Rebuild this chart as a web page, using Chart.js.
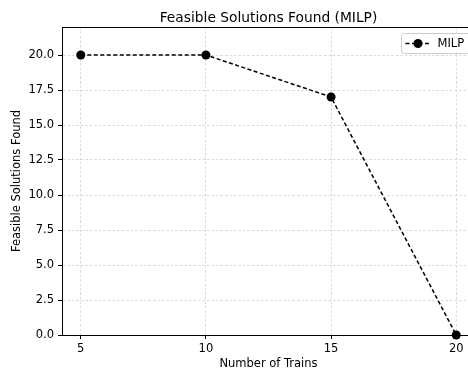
<!DOCTYPE html>
<html>
<head>
<meta charset="utf-8">
<script src="https://cdn.jsdelivr.net/npm/chart.js@4/dist/chart.umd.min.js"></script>
<style>
  html, body { margin: 0; padding: 0; background: #fff; overflow: hidden; width: 468px; height: 372px; }
  canvas { display: block; }
</style>
</head>
<body>
<canvas id="chart" width="490" height="372"></canvas>
<script>
// values
const trainCounts = [5, 10, 15, 20];
const feasibleFound = [20, 20, 17, 0];
const yTicks = [0, 2.5, 5, 7.5, 10, 12.5, 15, 17.5, 20];
const seriesLabel = 'MILP';
const chartTitle = 'Feasible Solutions Found (MILP)';

const FONT = "'DejaVu Sans', sans-serif";

// title + top spine + legend box, matplotlib style
const mplDecor = {
  id: 'mplDecor',
  afterDraw(chart) {
    const { ctx, chartArea: a } = chart;
    ctx.save();
    // top spine
    ctx.strokeStyle = '#000';
    ctx.lineWidth = 1;
    ctx.beginPath();
    ctx.moveTo(a.left, a.top + 0.5);
    ctx.lineTo(a.right, a.top + 0.5);
    ctx.stroke();

    // title
    ctx.fillStyle = '#000';
    ctx.font = '13.8px ' + FONT;
    ctx.textAlign = 'center';
    ctx.textBaseline = 'alphabetic';
    ctx.fillText(chartTitle, (a.left + a.right) / 2, 21.5);

    // legend
    const bx = 401.5, by = 33.5, bw = 70, bh = 20, r = 3;
    ctx.beginPath();
    ctx.moveTo(bx + r, by);
    ctx.arcTo(bx + bw, by, bx + bw, by + bh, r);
    ctx.arcTo(bx + bw, by + bh, bx, by + bh, r);
    ctx.arcTo(bx, by + bh, bx, by, r);
    ctx.arcTo(bx, by, bx + bw, by, r);
    ctx.closePath();
    ctx.fillStyle = 'rgba(255,255,255,0.8)';
    ctx.fill();
    ctx.strokeStyle = '#cccccc';
    ctx.stroke();

    const ly = by + bh / 2;
    ctx.strokeStyle = '#000';
    ctx.lineWidth = 1.5;
    ctx.setLineDash([4, 2.5]);
    ctx.beginPath();
    ctx.moveTo(bx + 4, ly);
    ctx.lineTo(bx + 29, ly);
    ctx.stroke();
    ctx.setLineDash([]);
    ctx.fillStyle = '#000';
    ctx.beginPath();
    ctx.arc(bx + 16.5, ly, 4.5, 0, Math.PI * 2);
    ctx.fill();

    ctx.font = '11.5px ' + FONT;
    ctx.textAlign = 'left';
    ctx.textBaseline = 'middle';
    ctx.fillText(chart.data.datasets[0].label, bx + 36, ly + 0.5);
    ctx.restore();
  }
};

const gridOpts = {
  color: '#d0d0d0',
  lineWidth: 0.8,
  tickColor: '#000',
  tickLength: 4,
  tickWidth: 1,
  tickBorderDash: []
};

new Chart(document.getElementById('chart'), {
  type: 'line',
  data: {
    datasets: [{
      label: seriesLabel,
      data: trainCounts.map((x, i) => ({ x: x, y: feasibleFound[i] })),
      borderColor: '#000',
      backgroundColor: '#000',
      borderWidth: 1.5,
      borderDash: [4, 2.5],
      pointRadius: 4.5,
      pointHoverRadius: 4.5,
      pointBackgroundColor: '#000',
      pointBorderWidth: 0,
      tension: 0,
      clip: false
    }]
  },
  options: {
    responsive: false,
    animation: false,
    events: [],
    layout: { padding: { top: 27, right: 15, bottom: 0, left: 0 } },
    plugins: {
      legend: { display: false },
      title: { display: false },
      tooltip: { enabled: false }
    },
    scales: {
      x: {
        type: 'linear',
        min: 4.25,
        max: 20.75,
        afterBuildTicks: (s) => { s.ticks = trainCounts.map(v => ({ value: v })); },
        afterFit: (s) => { s.height = 37; },
        grid: gridOpts,
        border: { color: '#000', width: 1, dash: [2.5, 2] },
        ticks: { color: '#000', font: { family: FONT, size: 11.5 }, padding: 3, maxRotation: 0 },
        title: {
          display: true,
          text: 'Number of Trains',
          color: '#000',
          font: { family: FONT, size: 11.5 },
          padding: { top: 0, bottom: 1 }
        }
      },
      y: {
        min: 0,
        max: 22,
        afterBuildTicks: (s) => { s.ticks = yTicks.map(v => ({ value: v })); },
        afterFit: (s) => { s.width = 62; },
        grid: gridOpts,
        border: { color: '#000', width: 1, dash: [2.5, 2] },
        ticks: {
          color: '#000',
          font: { family: FONT, size: 11.5 },
          padding: 4,
          callback: (v) => Number(v).toFixed(1)
        },
        title: {
          display: true,
          text: 'Feasible Solutions Found',
          color: '#000',
          font: { family: FONT, size: 11.5 },
          padding: { top: 10.5, bottom: 0 }
        }
      }
    }
  },
  plugins: [mplDecor]
});
</script>
</body>
</html>
